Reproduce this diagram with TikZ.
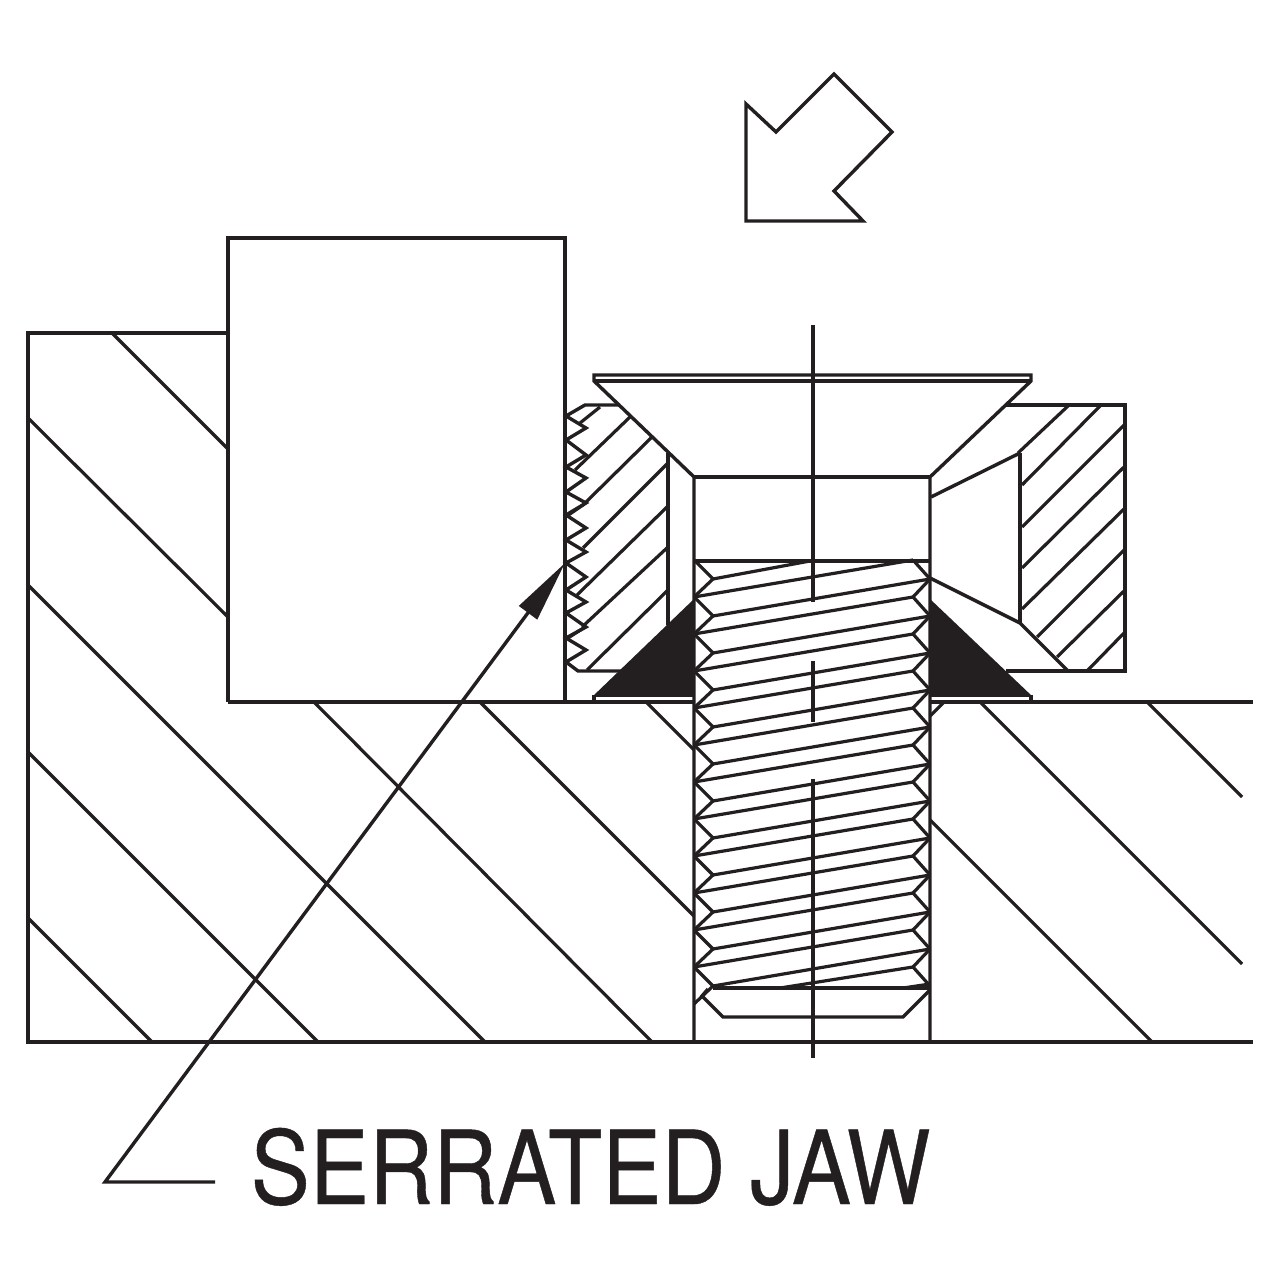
\documentclass[tikz,border=0pt]{standalone}
\usepackage{fontspec}
\usepackage{xcolor}
\usetikzlibrary{arrows.meta}
\newfontfamily\jawfont[FakeStretch=0.87,FakeBold=0.4]{TeX Gyre Heros}
\definecolor{ink}{HTML}{231F20}
\tikzset{
    part/.style={draw=ink,line width=0.034cm,line join=miter},
    hatch/.style={draw=ink,line width=0.032cm},
    wedge/.style={fill=ink}
}
\begin{document}
\begin{tikzpicture}[x=0.01cm,y=-0.01cm]
    \useasboundingbox (0,0) rectangle (1280,1280);
    % base plate
    \draw[part] (228,333)--(28,333)--(28,1042)--(1253,1042);
    \draw[part] (228,702)--(694,702);
    \draw[part] (930,702)--(1253,702);
    \foreach \xa/\ya/\xb/\yb in {112/333/228/449,28/418/228/617,28/585/485/1042,28/752/318/1042,28/918/152/1042,314/702/652/1042,480/702/694/916,646/702/694/750,980/702/1242/964,1147/702/1242/797,930/820/1152/1042}
        \draw[hatch] (\xa,\ya)--(\xb,\yb);
    \draw[hatch] (930,716)--(944,702);
    % jaw block
    \draw[part] (228,702)--(228,238)--(565,238)--(565,702);
    % direction arrow
    \draw[part] (746,104)--(746,221)--(863,221)--(834,191)--(892,132)--(834,74)--(776,132)--cycle;
    % serrated clamp
    \draw[part] (620,405)--(585,405)--(566,416)
        \foreach \ya/\yb in {428/440,455/467,478/492,503/515,528/540,552/563,577/590,602/613,627/638,650/662} {--(586,\ya)--(566,\yb)}
        --(578,671)--(622,671);
    \draw[part] (668,453)--(668,625);
    \foreach \xa/\ya/\xb/\yb in {580/423/600/407,575/470/630/417,583/505/652/437,567/516/583/505,583/548/668/463,577/595/668/506,582/627/668/547,568/638/585/627,587/670/668/590}
        \draw[hatch] (\xa,\ya)--(\xb,\yb);
    % right part of clamp
    \draw[part] (1005,405)--(1125,405)--(1125,671)--(1006,671);
    \draw[part] (1020,453)--(1020,623);
    \draw[part] (931,497)--(1020,453);
    \draw[part] (930,578)--(1020,623)--(1068,671);
    \foreach \xa/\ya/\xb/\yb in {1018/453/1068/406,1022/485/1100/406,1022/527/1124/425,1022/568/1124/467,1022/609/1124/509,1037/637/1124/550,1057/657/1124/591,1087/671/1124/633}
        \draw[hatch] (\xa,\ya)--(\xb,\yb);
    % wedges
    \fill[wedge] (592,697)--(694,599)--(694,697)--cycle;
    \fill[wedge] (1033,697)--(930,599)--(930,697)--cycle;
    \draw[part] (594,695)--(594,702);
    \draw[part] (1031,695)--(1031,702);
    % screw head and shank
    \draw[part] (694,1042)--(694,477)--(594,381)--(594,375)--(1031,375)--(1031,381)--(930,477)--(930,1042);
    \draw[part] (594,381)--(1031,381);
    \draw[part] (694,477)--(930,477);
    \draw[part] (694,561)--(930,561);
    % thread
    \foreach \k in {0,...,11}{
        \pgfmathtruncatemacro{\ymaj}{560+37*\k}
        \pgfmathtruncatemacro{\ymin}{579+37*\k}
        \pgfmathtruncatemacro{\ynext}{597+37*\k}
        \draw[hatch] (694,\ymaj)--(713,\ymin)--(694,\ynext);
        \draw[hatch] (913,\ymaj)--(930,\ymin);
        \ifnum\k<11
            \draw[hatch] (930,\ymin)--(913,\ynext);
        \fi
    }
    \foreach \k in {1,...,11}{
        \pgfmathtruncatemacro{\yl}{560+37*\k}
        \pgfmathtruncatemacro{\yr}{560+37*(\k-1)}
        \pgfmathtruncatemacro{\ym}{579+37*\k}
        \pgfmathtruncatemacro{\ys}{579+37*(\k-1)}
        \draw[hatch] (694,\yl)--(913,\yr);
        \draw[hatch] (713,\ym)--(930,\ys);
    }
    \draw[hatch] (713,579)--(810,561);
    \draw[hatch] (780,988)--(913,967);
    \draw[hatch] (903,988)--(930,984);
    \draw[part] (713,988)--(930,988);
    \draw[part] (708,989)--(702,996)--(723,1017)--(903,1017)--(930,990);
    % centre line
    \draw[part] (813,325)--(813,602);
    \draw[part] (813,661)--(813,722);
    \draw[part] (813,779)--(813,1058);
    % leader
    \node[anchor=base west,inner sep=0pt,text=ink,font=\jawfont\fontsize{29}{32}\selectfont] (jawlabel) at (250,1204) {SERRATED JAW};
    \coordinate (tip) at (565,563);
    \coordinate (elbow) at (105,1182);
    \coordinate (tail) at (215,1182);
    \draw[part,-{Triangle[length=0.62cm,width=0.22cm]}] (tail)--(elbow)--(tip);
\end{tikzpicture}
\end{document}
